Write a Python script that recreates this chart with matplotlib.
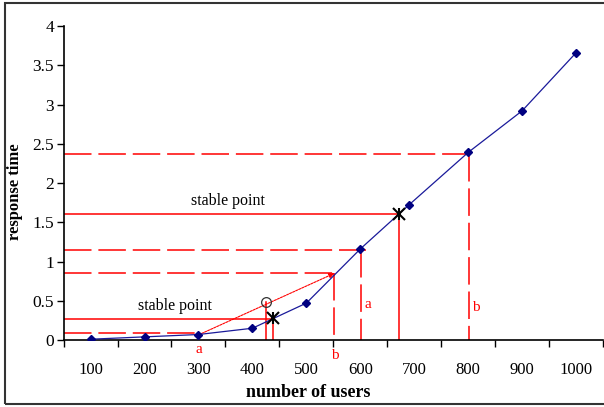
import matplotlib.pyplot as plt
import matplotlib.patches as patches

# measured response time
users = [100, 200, 300, 400, 500, 600, 690, 800, 900, 1000]
resp = [0.01, 0.04, 0.07, 0.15, 0.47, 1.16, 1.72, 2.39, 2.92, 3.66]

# stable points (black stars) and the extrapolated point (circle)
stable_x = [438, 672]
stable_y = [0.28, 1.61]
circle_x, circle_y = 425, 0.48

# red guide levels
lvl_a1, lvl_b1 = 0.085, 0.85      # lower pair
lvl_a2, lvl_b2 = 1.15, 2.37       # upper pair
x_a1, x_b1 = 300, 552
x_a2, x_b2 = 602, 802
stable_lo, stable_hi = 0.27, 1.61

plt.rcParams['font.family'] = ['Liberation Serif', 'DejaVu Serif']

fig = plt.figure(figsize=(6.04, 4.07), dpi=100)
ax = fig.add_axes([0.1053, 0.1646, 0.8932, 0.7715])

red = '#ff0000'
dash = (0, (18, 4.5))
lw = 1.1

# dashed guides
ax.plot([50, x_a1], [lvl_a1, lvl_a1], color=red, lw=lw, linestyle=dash)
ax.plot([50, x_b1], [lvl_b1, lvl_b1], color=red, lw=lw, linestyle=dash)
ax.plot([x_b1, x_b1], [lvl_b1, 0], color=red, lw=lw, linestyle=dash)
ax.plot([50, x_a2 + 8], [lvl_a2, lvl_a2], color=red, lw=lw, linestyle=dash)
ax.plot([x_a2, x_a2], [lvl_a2, 0], color=red, lw=lw, linestyle=dash)
ax.plot([50, x_b2 + 8], [lvl_b2, lvl_b2], color=red, lw=lw, linestyle=dash)
ax.plot([x_b2, x_b2], [lvl_b2, 0], color=red, lw=lw, linestyle=dash)

# solid guides for stable points
ax.plot([50, stable_x[0]], [stable_lo, stable_lo], color=red, lw=lw)
ax.plot([stable_x[0], stable_x[0]], [stable_lo, 0], color=red, lw=lw)
ax.plot([circle_x, circle_x], [circle_y, 0], color=red, lw=lw)
ax.plot([50, stable_x[1]], [stable_hi, stable_hi], color=red, lw=lw)
ax.plot([stable_x[1], stable_x[1]], [stable_hi, 0], color=red, lw=lw)

# extrapolation arrow a -> b
ax.annotate('', xy=(x_b1, lvl_b1), xytext=(x_a1, lvl_a1 - 0.02),
            arrowprops=dict(arrowstyle='-|>', color=red, lw=0.8,
                            linestyle=(0, (2, 1)), mutation_scale=8,
                            shrinkA=0, shrinkB=0))

# data
ax.plot(users, resp, color='#1a1a9a', lw=0.9, marker='D', markersize=4.5,
        markerfacecolor='#000080', markeredgecolor='#000080', zorder=5)
ax.plot(stable_x, stable_y, linestyle='none', marker='x', markersize=9,
        color='black', mew=1.5, zorder=6)
ax.plot(stable_x, stable_y, linestyle='none', marker='|', markersize=9,
        color='black', mew=1.5, zorder=6)
ax.plot([circle_x], [circle_y], linestyle='none', marker='o', markersize=7,
        markerfacecolor='none', markeredgecolor='#333333', mew=0.9, zorder=6)

# text
ax.text(355, 1.67, 'stable point', ha='center', va='bottom', fontsize=11.5)
ax.text(257, 0.33, 'stable point', ha='center', va='bottom', fontsize=11.5)
ax.text(x_a1, -0.04, 'a', color=red, ha='center', va='top', fontsize=11,
        clip_on=False)
ax.text(x_b1, -0.12, 'b', color=red, ha='center', va='top', fontsize=11,
        clip_on=False)
ax.text(x_a2 + 12, 0.45, 'a', color=red, ha='center', va='center', fontsize=11)
ax.text(x_b2 + 12, 0.42, 'b', color=red, ha='center', va='center', fontsize=11)

# axes
ax.set_xlim(50, 1050)
ax.set_ylim(0, 4)
ax.set_xticks([50 + 100 * k for k in range(11)])
ax.set_xticklabels([])
ax.set_xticks(users[:6] + [700] + users[7:], minor=True)
ax.set_xticklabels([str(u) for u in range(100, 1001, 100)], minor=True,
                   fontsize=12)
ax.tick_params(axis='x', which='major', direction='out', length=5, width=1)
ax.tick_params(axis='x', which='minor', length=0, pad=16)
ax.set_yticks([0, 0.5, 1, 1.5, 2, 2.5, 3, 3.5, 4])
ax.set_yticklabels(['0', '0.5', '1', '1.5', '2', '2.5', '3', '3.5', '4'],
                   fontsize=12.5)
ax.tick_params(axis='y', direction='out', length=5, width=1, pad=2)
for s in ['top', 'right']:
    ax.spines[s].set_visible(False)
ax.spines['left'].set_linewidth(1.2)
ax.spines['bottom'].set_linewidth(1.2)

fig.text(0.51, 0.035, 'number of users', ha='center', va='center',
         fontsize=13, fontweight='bold')
fig.text(0.025, 0.53, 'response time', ha='center', va='center',
         rotation=90, fontsize=12, fontweight='bold')

# outer frame
fig.patches.append(patches.Rectangle((0.008, 0.008), 0.995, 0.985,
                                     transform=fig.transFigure, fill=False,
                                     edgecolor='#333333', lw=1.5))

fig.savefig('out.png', dpi=100)
